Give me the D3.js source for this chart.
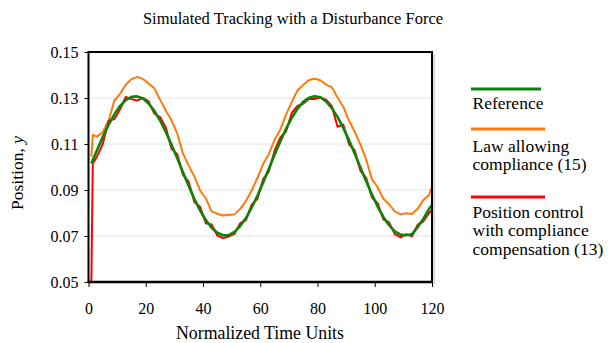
<!DOCTYPE html>
<html>
<head>
<meta charset="utf-8">
<script src="https://cdn.jsdelivr.net/npm/d3@7/dist/d3.min.js"></script>
<style>
  html, body { margin: 0; padding: 0; background: #fff; }
  svg { display: block; }
  svg text { font-family: "Liberation Serif", serif; fill: #000; }
</style>
</head>
<body>
<svg id="chart" width="608" height="343"></svg>
<script>
// ---- Data ----
const time = [1, 1.5, 3, 5, 7, 9, 11, 13, 15, 17, 19, 21, 23, 25, 27, 29, 31, 33, 35, 37, 39,
  41, 43, 45, 47, 49, 51, 53, 55, 57, 59, 61, 63, 65, 67, 69, 71, 73, 75, 77, 79,
  81, 83, 85, 87, 89, 91, 93, 95, 97, 99, 101, 103, 105, 107, 109, 111, 113, 115, 117, 119, 120];

const reference = [0.1016, 0.1030, 0.1074, 0.1131, 0.1183, 0.1228, 0.1265, 0.1291, 0.1305, 0.1307, 0.1298,
  0.1276, 0.1244, 0.1202, 0.1152, 0.1097, 0.1038, 0.0977, 0.0917, 0.0861, 0.0811,
  0.0769, 0.0736, 0.0714, 0.0703, 0.0704, 0.0718, 0.0743, 0.0778, 0.0823, 0.0875,
  0.0932, 0.0992, 0.1053, 0.1111, 0.1166, 0.1213, 0.1253, 0.1283, 0.1301, 0.1308,
  0.1303, 0.1285, 0.1256, 0.1218, 0.1170, 0.1117, 0.1058, 0.0998, 0.0938, 0.0881,
  0.0828, 0.0783, 0.0747, 0.0720, 0.0706, 0.0703, 0.0708, 0.0738, 0.0775, 0.0818, 0.0835];

const compliance = [0.1045, 0.1140, 0.1132, 0.1152, 0.1200, 0.1288, 0.1318, 0.1358, 0.1382, 0.1392, 0.1383,
  0.1363, 0.1342, 0.1293, 0.1246, 0.1203, 0.1146, 0.1058, 0.1006, 0.0958, 0.0897,
  0.0863, 0.0807, 0.0797, 0.0789, 0.0792, 0.0794, 0.0818, 0.0852, 0.0898, 0.0952,
  0.1013, 0.1057, 0.1118, 0.1162, 0.1228, 0.1282, 0.1333, 0.1357, 0.1378, 0.1384,
  0.1377, 0.1358, 0.1347, 0.1302, 0.1262, 0.1202, 0.1153, 0.1097, 0.1033, 0.0947,
  0.0912, 0.0862, 0.0838, 0.0807, 0.0794, 0.0799, 0.0796, 0.0818, 0.0857, 0.0878, 0.0915];

const positionControl = [0.0500, 0.1015, 0.1046, 0.1100, 0.1201, 0.1208, 0.1250, 0.1305, 0.1295, 0.1289, 0.1301,
  0.1285, 0.1232, 0.1217, 0.1172, 0.1079, 0.1056, 0.0966, 0.0936, 0.0847, 0.0827,
  0.0755, 0.0750, 0.0702, 0.0691, 0.0698, 0.0709, 0.0756, 0.0769, 0.0836, 0.0861,
  0.0947, 0.0980, 0.1071, 0.1128, 0.1154, 0.1235, 0.1266, 0.1275, 0.1296, 0.1296,
  0.1302, 0.1293, 0.1265, 0.1175, 0.1185, 0.1099, 0.1073, 0.0983, 0.0953, 0.0867,
  0.0843, 0.0772, 0.0759, 0.0708, 0.0694, 0.0708, 0.0699, 0.0749, 0.0764, 0.0800, 0.0812];

const xTicks = [0, 20, 40, 60, 80, 100, 120];
const yTicks = [0.05, 0.07, 0.09, 0.11, 0.13, 0.15];
const gridTicks = [0.07, 0.09, 0.11, 0.13];

const seriesNames = ["Reference", "Law allowing|compliance (15)", "Position control|with compliance|compensation (13)"];
const seriesColors = ["#0a840a", "#ff7a0a", "#ff0000"];

// ---- Layout ----
const FONT = "'Liberation Serif', serif";
const svg = d3.select("#chart");
const L = 88.5, R = 432, T = 52, B = 282;

const x = d3.scaleLinear().domain([0, 120]).range([L, R]);
const y = d3.scaleLinear().domain([0.05, 0.15]).range([B, T]);

// title
svg.append("text")
  .attr("x", 293).attr("y", 24)
  .attr("text-anchor", "middle")
  .attr("font-family", FONT)
  .attr("font-size", 16.5)
  .text("Simulated Tracking with a Disturbance Force");

// gridlines
svg.append("g").selectAll("line").data(gridTicks).join("line")
  .attr("x1", L).attr("x2", R)
  .attr("y1", d => y(d)).attr("y2", d => y(d))
  .attr("stroke", "#c8c8c8").attr("stroke-width", 1)
  .attr("stroke-dasharray", "2,2");

// axes
const yAxis = svg.append("g").attr("transform", `translate(${L},0)`)
  .call(d3.axisLeft(y).tickValues(yTicks).tickSize(4).tickPadding(6).tickFormat(d3.format(".2f")));
const xAxis = svg.append("g").attr("transform", `translate(0,${B})`)
  .call(d3.axisBottom(x).tickValues(xTicks).tickSize(5).tickPadding(16).tickFormat(d3.format("d")));
[yAxis, xAxis].forEach(g => {
  g.attr("font-family", FONT).attr("font-size", 16);
  g.select(".domain").remove();
  g.selectAll(".tick line").attr("stroke", "#000").attr("stroke-width", 1);
  g.selectAll(".tick text").attr("fill", "#000")
    .attr("font-family", FONT).attr("font-size", 16);
});
yAxis.selectAll(".tick text").attr("dy", "0.35em");

// series lines
const series = [
  { values: compliance, color: seriesColors[1], width: 2 },
  { values: positionControl, color: seriesColors[2], width: 2 },
  { values: reference, color: seriesColors[0], width: 2.6 }
];
const line = d3.line().x(d => x(d[0])).y(d => y(d[1]));
series.forEach(s => {
  svg.append("path")
    .datum(time.map((t, i) => [t, s.values[i]]))
    .attr("d", line)
    .attr("fill", "none")
    .attr("stroke", s.color)
    .attr("stroke-width", s.width)
    .attr("stroke-linejoin", "round");
});

// frame
svg.append("rect")
  .attr("x", R + 1.5).attr("y", T + 2).attr("width", 1.5).attr("height", B - T)
  .attr("fill", "#d0d0d0");
svg.append("rect")
  .attr("x", L).attr("y", T).attr("width", R - L).attr("height", B - T)
  .attr("fill", "none").attr("stroke", "#000").attr("stroke-width", 2);
svg.append("line")
  .attr("x1", L - 1).attr("x2", R + 1).attr("y1", B).attr("y2", B)
  .attr("stroke", "#000").attr("stroke-width", 2.6);

// axis titles
svg.append("text")
  .attr("x", 260).attr("y", 339)
  .attr("text-anchor", "middle")
  .attr("font-family", FONT)
  .attr("font-size", 17.8)
  .text("Normalized Time Units");

const yl = svg.append("text")
  .attr("transform", "translate(23,173) rotate(-90)")
  .attr("text-anchor", "middle")
  .attr("font-family", FONT)
  .attr("font-size", 17.5);
yl.append("tspan").text("Position, ");
yl.append("tspan").attr("font-style", "italic").text("y");

// legend
const legendLineY = [89, 129, 197];
const legendTextY = [109, 152, 218];
const lg = svg.append("g");
seriesNames.forEach((name, i) => {
  lg.append("line")
    .attr("x1", 471).attr("x2", i === 0 ? 541 : 545)
    .attr("y1", legendLineY[i]).attr("y2", legendLineY[i])
    .attr("stroke", seriesColors[i]).attr("stroke-width", 3);
  const t = lg.append("text")
    .attr("x", 472.5).attr("y", legendTextY[i])
    .attr("font-family", FONT)
    .attr("font-size", 17.5);
  name.split("|").forEach((part, j) => {
    t.append("tspan").attr("x", 472.5).attr("dy", j === 0 ? 0 : 18.3).text(part);
  });
});
</script>
</body>
</html>
